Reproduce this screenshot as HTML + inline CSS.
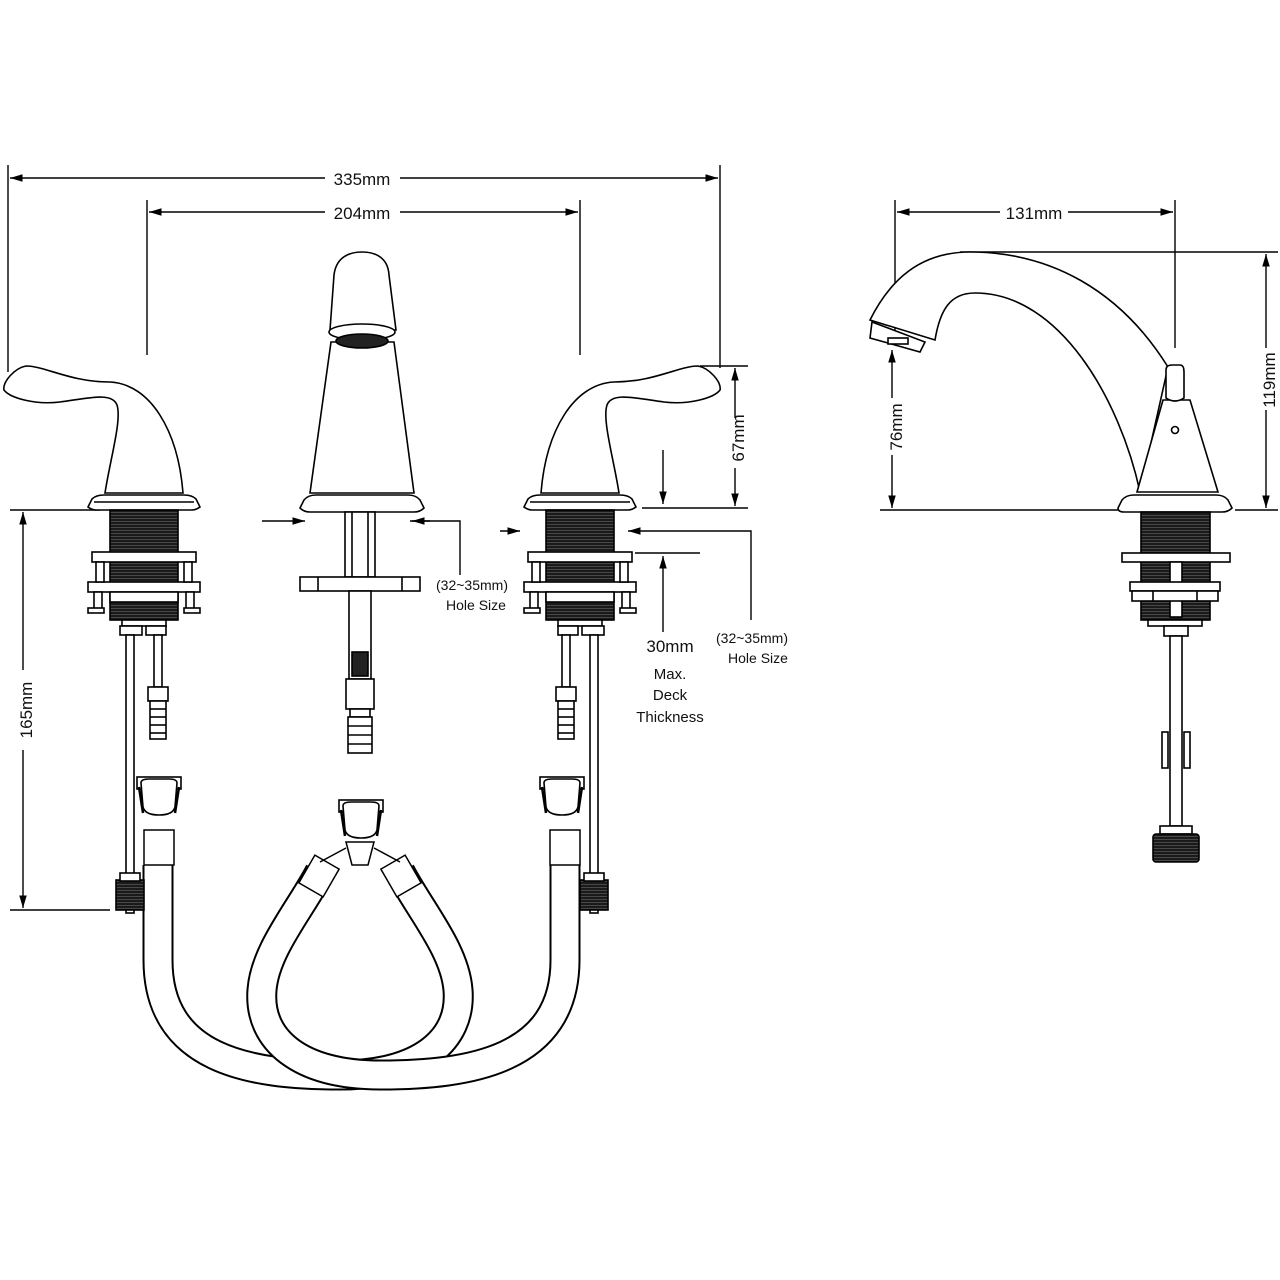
<!DOCTYPE html>
<html><head><meta charset="utf-8"><style>
html,body{margin:0;padding:0;background:#fff;}
svg{display:block}
text{font-family:"Liberation Sans",sans-serif;fill:#111;}
</style></head><body>
<svg width="1280" height="1280" viewBox="0 0 1280 1280" xmlns="http://www.w3.org/2000/svg">
<defs>
<marker id="ar" viewBox="0 0 10 10" refX="10" refY="5" markerWidth="9" markerHeight="9" orient="auto-start-reverse"><path d="M0,2 L10,5 L0,8 z" fill="#000"/></marker>
<pattern id="thr" width="4" height="3" patternUnits="userSpaceOnUse"><rect width="4" height="3" fill="#1a1a1a"/><rect y="2" width="4" height="0.6" fill="#666"/></pattern>
<g id="valve" fill="#fff" stroke="#000" stroke-width="1.6">
  <path d="M-56,12 L-52,4 Q-48,0 -40,0 L40,0 Q48,0 52,4 L56,12 Q52,15 48,15 L-48,15 Q-52,15 -56,12z"/>
  <line x1="-50" y1="7" x2="50" y2="7"/>
  <rect x="-34" y="15" width="68" height="110" fill="url(#thr)"/>
  <rect x="-52" y="57" width="104" height="10"/>
  <rect x="-56" y="87" width="112" height="10"/>
  <rect x="-48" y="67" width="8" height="20"/>
  <rect x="40" y="67" width="8" height="20"/>
  <rect x="-50" y="97" width="8" height="18"/>
  <rect x="42" y="97" width="8" height="18"/>
  <rect x="-56" y="113" width="16" height="5"/>
  <rect x="40" y="113" width="16" height="5"/>
  <rect x="-34" y="97" width="68" height="10"/>
  <rect x="-22" y="125" width="44" height="6"/>
  <rect x="-24" y="131" width="22" height="9"/>
  <rect x="2" y="131" width="20" height="9"/>
  <rect x="-18" y="140" width="8" height="278"/>
  <rect x="10" y="140" width="8" height="52"/>
  <rect x="4" y="192" width="20" height="14"/>
  <rect x="6" y="206" width="16" height="38"/>
  <line x1="6" y1="214" x2="22" y2="214"/><line x1="6" y1="222" x2="22" y2="222"/><line x1="6" y1="230" x2="22" y2="230"/><line x1="6" y1="238" x2="22" y2="238"/>
  <rect x="-28" y="385" width="28" height="30" fill="url(#thr)"/>
  <rect x="-24" y="378" width="20" height="8"/>
</g>
<g id="coupler" fill="#fff" stroke="#000" stroke-width="1.6">
  <rect x="-22" y="0" width="44" height="12"/>
  <path d="M-18,6 Q-18,2 -10,2 L10,2 Q18,2 18,6 L16,30 Q14,38 0,38 Q-14,38 -16,30 z"/>
  <path d="M-20,10 L-16,36 M20,10 L16,36" stroke-width="2.5"/>
</g>
</defs>

<g stroke="#000" stroke-width="1.4" fill="none">
  <line x1="8" y1="165" x2="8" y2="372"/>
  <line x1="720" y1="165" x2="720" y2="368"/>
  <line x1="10" y1="178" x2="325" y2="178" marker-start="url(#ar)"/>
  <line x1="400" y1="178" x2="718" y2="178" marker-end="url(#ar)"/>
  <line x1="147" y1="200" x2="147" y2="355"/>
  <line x1="580" y1="200" x2="580" y2="355"/>
  <line x1="149" y1="212" x2="325" y2="212" marker-start="url(#ar)"/>
  <line x1="400" y1="212" x2="578" y2="212" marker-end="url(#ar)"/>
  <line x1="700" y1="366" x2="748" y2="366"/>
  <line x1="642" y1="508" x2="748" y2="508"/>
  <line x1="735" y1="368" x2="735" y2="418" marker-start="url(#ar)"/>
  <line x1="735" y1="468" x2="735" y2="506" marker-end="url(#ar)"/>
  <line x1="663" y1="450" x2="663" y2="504" marker-end="url(#ar)"/>
  <line x1="628" y1="531" x2="648" y2="531" marker-start="url(#ar)"/>
  <polyline points="648,531 751,531 751,620"/>
  <line x1="500" y1="531" x2="520" y2="531" marker-end="url(#ar)"/>
  <line x1="635" y1="553" x2="700" y2="553"/>
  <line x1="663" y1="632" x2="663" y2="556" marker-end="url(#ar)"/>
  <line x1="262" y1="521" x2="305" y2="521" marker-end="url(#ar)"/>
  <polyline points="410,521 460,521 460,575"/>
  <line x1="412" y1="521" x2="430" y2="521" marker-start="url(#ar)"/>
  <line x1="10" y1="510" x2="100" y2="510"/>
  <line x1="10" y1="910" x2="110" y2="910"/>
  <line x1="23" y1="512" x2="23" y2="670" marker-start="url(#ar)"/>
  <line x1="23" y1="750" x2="23" y2="908" marker-end="url(#ar)"/>
  <line x1="895" y1="200" x2="895" y2="340"/>
  <line x1="1175" y1="200" x2="1175" y2="348"/>
  <line x1="897" y1="212" x2="1000" y2="212" marker-start="url(#ar)"/>
  <line x1="1068" y1="212" x2="1173" y2="212" marker-end="url(#ar)"/>
  <line x1="960" y1="252" x2="1278" y2="252"/>
  <line x1="880" y1="510" x2="1118" y2="510"/>
  <line x1="1235" y1="510" x2="1278" y2="510"/>
  <line x1="1266" y1="254" x2="1266" y2="348" marker-start="url(#ar)"/>
  <line x1="1266" y1="410" x2="1266" y2="508" marker-end="url(#ar)"/>
  <line x1="892" y1="350" x2="892" y2="398" marker-start="url(#ar)"/>
  <line x1="892" y1="455" x2="892" y2="508" marker-end="url(#ar)"/>
</g>
<g font-size="17">
  <text x="362" y="185" text-anchor="middle">335mm</text>
  <text x="362" y="219" text-anchor="middle">204mm</text>
  <text x="1034" y="219" text-anchor="middle">131mm</text>
  <text transform="translate(744,438) rotate(-90)" text-anchor="middle">67mm</text>
  <text transform="translate(32,710) rotate(-90)" text-anchor="middle">165mm</text>
  <text transform="translate(1275,380) rotate(-90)" text-anchor="middle">119mm</text>
  <text transform="translate(902,427) rotate(-90)" text-anchor="middle">76mm</text>
</g>
<g font-size="14" text-anchor="middle">
  <text x="472" y="590">(32~35mm)</text>
  <text x="476" y="610">Hole Size</text>
  <text x="752" y="643">(32~35mm)</text>
  <text x="758" y="663">Hole Size</text>
  <text x="670" y="652" font-size="17">30mm</text>
  <text x="670" y="679" font-size="15">Max.</text>
  <text x="670" y="700" font-size="15">Deck</text>
  <text x="670" y="722" font-size="15">Thickness</text>
</g>

<g fill="none" stroke-linecap="butt">
  <path d="M400,872 C420,910 455,950 458,990 C462,1040 420,1075 340,1075 C250,1075 158,1060 158,960 L158,865" stroke="#000" stroke-width="31"/>
  <path d="M400,872 C420,910 455,950 458,990 C462,1040 420,1075 340,1075 C250,1075 158,1060 158,960 L158,865" stroke="#fff" stroke-width="27"/>
  <path d="M320,872 C300,910 265,950 262,990 C258,1040 300,1075 380,1075 C470,1075 565,1060 565,960 L565,865" stroke="#000" stroke-width="31"/>
  <path d="M320,872 C300,910 265,950 262,990 C258,1040 300,1075 380,1075 C470,1075 565,1060 565,960 L565,865" stroke="#fff" stroke-width="27"/>
</g>
<g fill="#fff" stroke="#000" stroke-width="1.5">
  <rect x="144" y="830" width="30" height="35"/>
  <rect x="550" y="830" width="30" height="35"/>
  <rect x="305" y="860" width="28" height="32" transform="rotate(30 319 876)"/>
  <rect x="387" y="860" width="28" height="32" transform="rotate(-30 401 876)"/>
  <path d="M346,842 L352,865 L368,865 L374,842 z"/>
  <path d="M320,862 L346,848 M400,862 L374,848"/>
</g>
<use href="#coupler" x="159" y="777"/>
<use href="#coupler" x="562" y="777"/>
<use href="#coupler" x="361" y="800"/>

<use href="#valve" x="144" y="495"/>
<g transform="translate(724,0) scale(-1,1)"><use href="#valve" x="144" y="495"/></g>
<path d="M105,493 C110,460 122,420 117,405 C112,392 90,398 60,402 C35,405 10,398 4,390 C2,382 15,368 26,366 C45,366 70,382 110,382 C150,384 178,430 183,493 z" fill="#fff" stroke="#000" stroke-width="1.6"/>
<g transform="translate(724,0) scale(-1,1)"><path d="M105,493 C110,460 122,420 117,405 C112,392 90,398 60,402 C35,405 10,398 4,390 C2,382 15,368 26,366 C45,366 70,382 110,382 C150,384 178,430 183,493 z" fill="#fff" stroke="#000" stroke-width="1.6"/></g>

<g fill="#fff" stroke="#000" stroke-width="1.6">
  <path d="M331,342 L310,493 L414,493 L394,342 z"/>
  <path d="M330,330 L334,275 C336,258 348,252 362,252 C376,252 388,258 389,275 L396,330 z"/>
  <ellipse cx="362" cy="332" rx="33" ry="8"/>
  <ellipse cx="362" cy="341" rx="26" ry="7" fill="#222"/>
  <path d="M300,508 L304,500 Q308,495 316,495 L408,495 Q416,495 420,500 L424,508 Q420,512 414,512 L310,512 Q304,512 300,508z"/>
  <rect x="345" y="512" width="30" height="65"/>
  <line x1="352" y1="512" x2="352" y2="577"/><line x1="368" y1="512" x2="368" y2="577"/>
  <rect x="300" y="577" width="120" height="14"/>
  <line x1="318" y1="577" x2="318" y2="591"/><line x1="402" y1="577" x2="402" y2="591"/>
  <rect x="349" y="591" width="22" height="88"/>
  <rect x="352" y="652" width="16" height="24" fill="#222"/>
  <rect x="346" y="679" width="28" height="30"/>
  <rect x="350" y="709" width="20" height="8"/>
  <rect x="348" y="717" width="24" height="36"/>
  <line x1="348" y1="726" x2="372" y2="726"/><line x1="348" y1="735" x2="372" y2="735"/><line x1="348" y1="744" x2="372" y2="744"/>
</g>

<g fill="#fff" stroke="#000" stroke-width="1.6">
  <path d="M870,320 C890,280 920,252 970,252 C1050,252 1120,290 1168,367 L1140,492 C1120,400 1060,293 975,293 C950,293 940,310 935,340 z"/>
  <path d="M872,322 L870,338 L920,352 L925,342 z"/>
  <rect x="888" y="338" width="20" height="6"/>
  <path d="M1163,400 L1137,492 L1218,492 L1190,400 z"/>
  <path d="M1166,370 Q1166,365 1172,365 L1180,365 Q1184,365 1184,372 L1184,398 Q1175,404 1166,398 z"/>
  <circle cx="1175" cy="430" r="3.5"/>
  <path d="M1118,508 L1122,500 Q1126,495 1134,495 L1216,495 Q1224,495 1228,500 L1232,508 Q1228,512 1222,512 L1124,512 Q1118,512 1118,508z"/>
  <rect x="1141" y="512" width="69" height="108" fill="url(#thr)"/>
  <rect x="1122" y="553" width="108" height="9"/>
  <rect x="1170" y="562" width="12" height="55"/>
  <rect x="1130" y="582" width="90" height="9"/>
  <rect x="1132" y="591" width="86" height="10"/>
  <line x1="1153" y1="591" x2="1153" y2="601"/><line x1="1197" y1="591" x2="1197" y2="601"/>
  <rect x="1148" y="620" width="54" height="6"/>
  <rect x="1164" y="626" width="24" height="10"/>
  <rect x="1170" y="636" width="12" height="190"/>
  <rect x="1162" y="732" width="6" height="36"/>
  <rect x="1184" y="732" width="6" height="36"/>
  <rect x="1160" y="826" width="32" height="8"/>
  <rect x="1153" y="834" width="46" height="28" rx="3" fill="url(#thr)"/>
</g>
</svg>
</body></html>
